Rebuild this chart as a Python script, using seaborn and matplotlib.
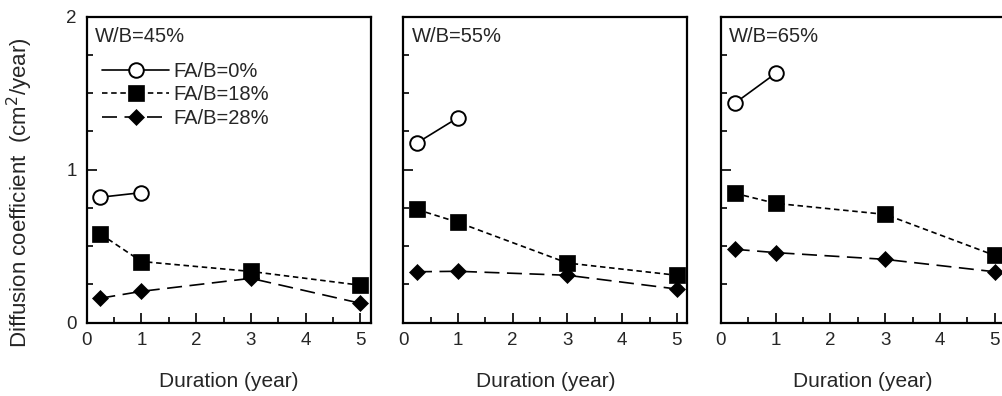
import matplotlib
matplotlib.use("Agg")
import matplotlib.pyplot as plt
import seaborn as sns
from matplotlib.ticker import MultipleLocator
from matplotlib.lines import Line2D

sns.set_theme(style="white")
plt.rcParams['font.family'] = ['Liberation Sans', 'DejaVu Sans']

panel_titles = ["W/B=45%", "W/B=55%", "W/B=65%"]
series_labels = ["FA/B=0%", "FA/B=18%", "FA/B=28%"]

x_fa0 = [0.25, 1]
x_fa = [0.25, 1, 3, 5]

wb45_fa0 = [0.82, 0.85]
wb45_fa18 = [0.58, 0.40, 0.335, 0.245]
wb45_fa28 = [0.16, 0.205, 0.29, 0.127]

wb55_fa0 = [1.175, 1.34]
wb55_fa18 = [0.74, 0.656, 0.39, 0.31]
wb55_fa28 = [0.333, 0.336, 0.31, 0.22]

wb65_fa0 = [1.434, 1.63]
wb65_fa18 = [0.846, 0.78, 0.708, 0.44]
wb65_fa28 = [0.48, 0.458, 0.414, 0.333]

panels = [
    (wb45_fa0, wb45_fa18, wb45_fa28),
    (wb55_fa0, wb55_fa18, wb55_fa28),
    (wb65_fa0, wb65_fa18, wb65_fa28),
]

fig = plt.figure(figsize=(10.03, 3.96), dpi=100)
W, H = 1003, 396
lefts = [86.7, 403.3, 721.0]
aw = 284.0
ybot = 322.7
ytop = 16.7

styles = [
    dict(marker='o', linestyle='-', markersize=10.5, mfc='white', mec='black', mew=1.4),
    dict(marker='s', linestyle=(0, (3.3, 2.2)), markersize=12, mfc='black', mec='black', mew=0.5),
    dict(marker='D', linestyle=(0, (9, 4.5)), markersize=8.5, mfc='black', mec='black', mew=0.5),
]

for i, (fa0, fa18, fa28) in enumerate(panels):
    ax = fig.add_axes([lefts[i] / W, (H - ybot) / H, aw / W, (ybot - ytop) / H])
    sns.lineplot(x=x_fa0, y=fa0, ax=ax, color='black', lw=1.2, **styles[0])
    sns.lineplot(x=x_fa, y=fa18, ax=ax, color='black', lw=1.2, **styles[1])
    sns.lineplot(x=x_fa, y=fa28, ax=ax, color='black', lw=1.2, **styles[2])
    ax.set_xlim(0, 5.19)
    ax.set_ylim(0, 2)
    ax.xaxis.set_major_locator(MultipleLocator(1))
    ax.xaxis.set_minor_locator(MultipleLocator(0.5))
    ax.yaxis.set_major_locator(MultipleLocator(1))
    ax.yaxis.set_minor_locator(MultipleLocator(0.25))
    ax.tick_params(which='both', direction='in', top=False, right=False,
                   bottom=True, left=True, width=1.2, color='black')
    ax.tick_params(which='major', length=7.5, labelsize=13.5, pad=7)
    ax.tick_params(which='minor', length=4.5)
    for s in ax.spines.values():
        s.set_linewidth(1.6)
        s.set_color('black')
    if i > 0:
        ax.tick_params(axis='y', labelleft=False)
    ax.set_xlabel("Duration (year)", fontsize=15, labelpad=16)
    ax.set_ylabel("")
    ax.text(0.029, 0.935, panel_titles[i], transform=ax.transAxes,
            fontsize=14.5, va='center', ha='left')
    if i == 0:
        handles = [Line2D([], [], color='black', lw=1.2, **st) for st in styles]
        ax.legend(handles, series_labels, loc='upper left', frameon=False,
                  bbox_to_anchor=(0.02, 0.885), fontsize=14.5, handlelength=3.3,
                  handletextpad=0.2, labelspacing=0.22, borderpad=0.0)

fig.text(20 / W, (H - 193) / H, "Diffusion coefficient  (cm$^2$/year)",
         rotation=90, va='center', ha='center', fontsize=16)

fig.savefig("out.png", dpi=100)
